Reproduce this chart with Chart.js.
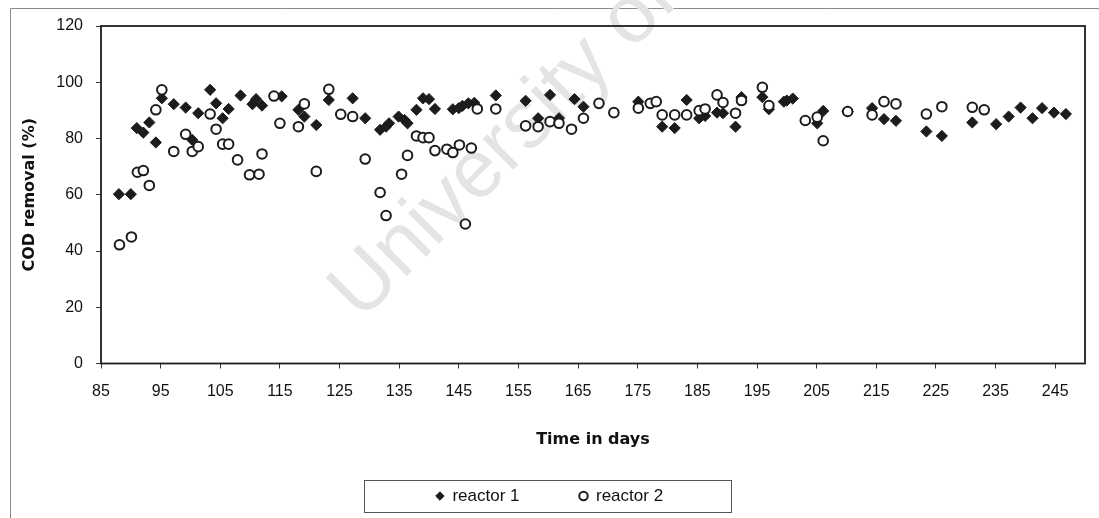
<!DOCTYPE html>
<html>
<head>
<meta charset="utf-8">
<title>COD removal</title>
<script src="https://cdn.jsdelivr.net/npm/chart.js@4.4.1/dist/chart.umd.min.js"></script>
<style>
    html, body { margin: 0; padding: 0; background: #fff; }
    #wrap { width: 1099px; height: 518px; }
</style>
</head>
<body>
<div id="wrap"><canvas id="codChart" width="1099" height="518"></canvas></div>
<script>
// Datos: día y % de remoción de DQO
const reactor1Days = [88, 90, 91, 92.1, 93.1, 94.2, 95.2, 97.2, 99.2, 100.3,
    101.3, 103.3, 104.3, 105.4, 106.4, 108.4, 110.4, 111, 112, 115.3,
    118.1, 119.1, 121.1, 123.2, 127.2, 129.3, 131.8, 132.8, 133.3, 134.9,
    135.9, 136.4, 137.9, 139, 140, 141, 144, 145, 145.6, 146.6,
    147.6, 151.2, 156.2, 158.3, 160.3, 161.8, 164.4, 165.9, 175.1, 179.1,
    181.2, 183.2, 185.3, 186.3, 188.3, 189.3, 191.4, 192.4, 195.9, 197,
    199.5, 200, 201, 205.1, 206.1, 210.2, 214.3, 216.3, 218.3, 223.4,
    226, 231.1, 235.1, 237.2, 239.2, 241.2, 242.8, 244.8, 246.8];
const reactor1Removal = [60.2, 60.2, 83.7, 82.1, 85.7, 78.6, 94.3, 92.2, 91.0, 79.5,
    89.0, 97.3, 92.5, 87.2, 90.5, 95.3, 92.2, 94.0, 91.7, 95.0,
    90.2, 87.8, 84.8, 93.7, 94.3, 87.2, 83.1, 84.2, 85.4, 87.8,
    86.6, 85.4, 90.2, 94.3, 94.0, 90.5, 90.4, 90.8, 91.6, 92.5,
    92.7, 95.3, 93.4, 87.2, 95.5, 87.2, 94.0, 91.3, 93.1, 84.2,
    83.7, 93.7, 87.2, 88.0, 89.2, 89.0, 84.2, 94.7, 94.7, 90.4,
    93.1, 93.5, 94.2, 85.4, 89.8, 89.6, 90.8, 86.9, 86.3, 82.5,
    80.9, 85.7, 85.1, 87.8, 91.0, 87.2, 90.8, 89.2, 88.7];

const reactor2Days = [88.1, 90.1, 91.1, 92.1, 93.1, 94.2, 95.2, 97.2, 99.2, 100.3,
    101.3, 103.3, 104.3, 105.4, 106.4, 107.9, 109.9, 111.5, 112, 114,
    115, 118.1, 119.1, 121.1, 123.2, 125.2, 127.2, 129.3, 131.8, 132.8,
    135.4, 136.4, 137.9, 139, 140, 141, 143, 144, 145.1, 146.1,
    147.1, 148.1, 151.2, 156.2, 158.3, 160.3, 161.8, 163.9, 165.9, 168.5,
    171, 175.1, 177.1, 178.1, 179.1, 181.2, 183.2, 185.3, 186.3, 188.3,
    189.3, 191.4, 192.4, 195.9, 197, 203.1, 205.1, 206.1, 210.2, 214.3,
    216.3, 218.3, 223.4, 226, 231.1, 233.1];
const reactor2Removal = [42.2, 45.0, 68.0, 68.6, 63.3, 90.2, 97.3, 75.4, 81.5, 75.4,
    77.1, 88.7, 83.3, 78.0, 78.0, 72.4, 67.1, 67.3, 74.5, 95.1,
    85.4, 84.2, 92.3, 68.3, 97.5, 88.6, 87.8, 72.7, 60.8, 52.6,
    67.3, 74.0, 80.9, 80.3, 80.3, 75.7, 76.2, 75.0, 77.7, 49.6,
    76.6, 90.5, 90.5, 84.5, 84.2, 86.0, 85.4, 83.3, 87.2, 92.5,
    89.2, 90.8, 92.5, 93.1, 88.4, 88.4, 88.4, 89.9, 90.5, 95.5,
    92.8, 89.0, 93.5, 98.2, 91.7, 86.4, 87.6, 79.2, 89.6, 88.4,
    93.1, 92.3, 88.7, 91.3, 91.1, 90.2];

// Marcas de los ejes
const xTickValues = [85, 95, 105, 115, 125, 135, 145, 155, 165, 175, 185, 195, 205, 215, 225, 235, 245];
const yTickValues = [0, 20, 40, 60, 80, 100, 120];

document.addEventListener('DOMContentLoaded', function() {
    // Función para unir días y valores en puntos {x, y}
    function toPoints(days, values) {
        return days.map((d, i) => ({ x: d, y: values[i] }));
    }

    // Plugin: borde exterior, marca de agua, marco del área y de la leyenda
    const framePlugin = {
        id: 'framePlugin',
        beforeDraw(chart) {
            const ctx = chart.ctx;
            ctx.save();
            ctx.strokeStyle = '#8a8a8a';
            ctx.lineWidth = 1;
            ctx.beginPath();
            ctx.moveTo(10.5, chart.height);
            ctx.lineTo(10.5, 8.5);
            ctx.lineTo(chart.width, 8.5);
            ctx.stroke();

            ctx.translate(345, 306);
            ctx.rotate(-Math.PI / 4);
            ctx.fillStyle = '#e4e4e4';
            ctx.font = '82px Arial';
            ctx.fillText('University of Cape Town', 0, 0);
            ctx.restore();
        },
        afterDraw(chart) {
            const { ctx, chartArea } = chart;
            ctx.save();
            ctx.strokeStyle = '#1e1e1e';
            ctx.lineWidth = 1.8;
            ctx.strokeRect(chartArea.left, chartArea.top,
                chartArea.right - chartArea.left, chartArea.bottom - chartArea.top);

            const boxes = chart.legend.legendHitBoxes;
            if (boxes && boxes.length) {
                const first = boxes[0];
                const last = boxes[boxes.length - 1];
                const cy = first.top + first.height / 2;
                const left = Math.round(first.left - 72) + 0.5;
                const right = Math.round(last.left + last.width + 68) + 0.5;
                ctx.lineWidth = 1;
                ctx.strokeStyle = '#555';
                ctx.strokeRect(left, Math.round(cy - 16) + 0.5, right - left, 32);
            }
            ctx.restore();
        }
    };

    // Inicializar el gráfico
    function initializeChart() {
        const ctx = document.getElementById('codChart');
        return new Chart(ctx, {
            type: 'scatter',
            data: {
                datasets: [{
                    label: 'reactor 1',
                    data: toPoints(reactor1Days, reactor1Removal),
                    order: 1,
                    pointStyle: 'rectRot',
                    pointRadius: 5.6,
                    pointHoverRadius: 5.6,
                    backgroundColor: '#1c1c1c',
                    borderColor: '#1c1c1c',
                    borderWidth: 1
                }, {
                    label: 'reactor 2',
                    data: toPoints(reactor2Days, reactor2Removal),
                    order: 0,
                    pointStyle: 'circle',
                    pointRadius: 4.8,
                    pointHoverRadius: 4.8,
                    backgroundColor: '#ffffff',
                    borderColor: '#1c1c1c',
                    borderWidth: 2
                }]
            },
            options: {
                responsive: false,
                animation: false,
                layout: {
                    padding: { left: 14, right: 14, top: 26, bottom: 3.5 }
                },
                plugins: {
                    legend: {
                        position: 'bottom',
                        labels: {
                            usePointStyle: true,
                            boxWidth: 8,
                            boxHeight: 6,
                            padding: 60,
                            color: '#111',
                            font: { family: 'Arial', size: 17 },
                            sort: (a, b) => a.datasetIndex - b.datasetIndex
                        }
                    },
                    tooltip: { enabled: false }
                },
                scales: {
                    x: {
                        type: 'linear',
                        min: 85,
                        max: 250,
                        afterBuildTicks: scale => {
                            scale.ticks = xTickValues.map(v => ({ value: v }));
                        },
                        afterFit: scale => { scale.height = 64; },
                        border: { display: false },
                        grid: { drawOnChartArea: false, drawTicks: true, tickLength: 5, color: '#333' },
                        ticks: {
                            color: '#111',
                            font: { family: 'Arial', size: 16 },
                            padding: 13,
                            maxRotation: 0,
                            autoSkip: false
                        },
                        title: {
                            display: true,
                            text: 'Time in days',
                            color: '#111',
                            font: { family: 'DejaVu Sans', size: 16, weight: 'bold' },
                            padding: { top: 0, bottom: -22 }
                        }
                    },
                    y: {
                        min: 0,
                        max: 120,
                        afterBuildTicks: scale => {
                            scale.ticks = yTickValues.map(v => ({ value: v }));
                        },
                        afterFit: scale => { scale.width = 87; },
                        border: { display: false },
                        grid: { drawOnChartArea: false, drawTicks: true, tickLength: 5, color: '#333' },
                        ticks: {
                            color: '#111',
                            font: { family: 'Arial', size: 16 },
                            padding: 13
                        },
                        title: {
                            display: true,
                            text: 'COD removal (%)',
                            color: '#111',
                            font: { family: 'DejaVu Sans', size: 16, weight: 'bold' },
                            padding: { top: 6, bottom: 0 }
                        }
                    }
                }
            },
            plugins: [framePlugin]
        });
    }

    const chart = initializeChart();
});
</script>
</body>
</html>
